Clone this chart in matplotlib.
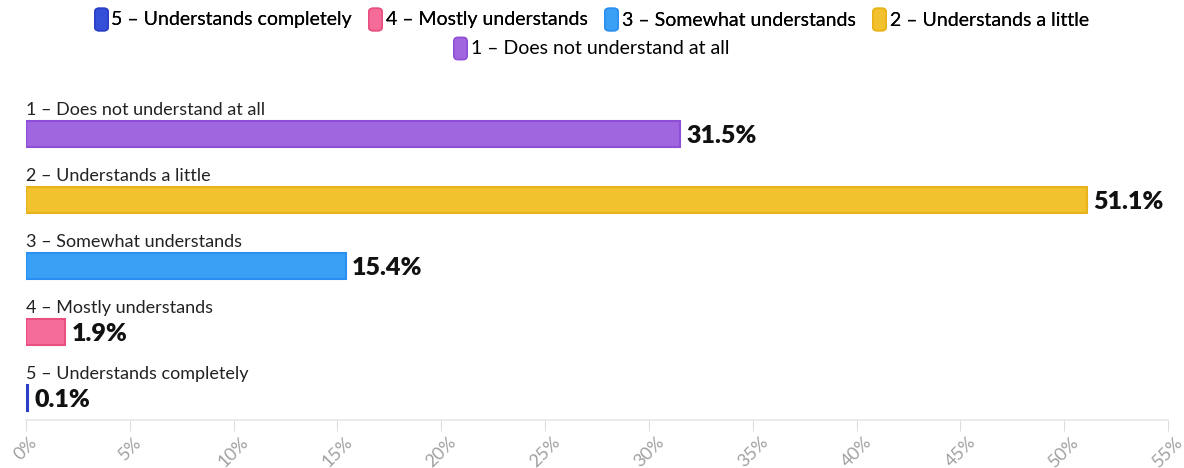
import matplotlib
matplotlib.use("Agg")
import matplotlib.pyplot as plt
from matplotlib.lines import Line2D
from matplotlib.patches import FancyBboxPatch

plt.rcParams['font.family'] = ['Lato', 'DejaVu Sans']

categories = ["1 – Does not understand at all", "2 – Understands a little",
              "3 – Somewhat understands", "4 – Mostly understands",
              "5 – Understands completely"]
values = [31.5, 51.1, 15.4, 1.9, 0.1]
face_colors = ["#a066e0", "#f2c12e", "#3aa0f6", "#f56c9b", "#3550d8"]
edge_colors = ["#8e4fd6", "#e8b31a", "#2a8ff0", "#e8507f", "#2a3fc8"]
xticks = list(range(0, 56, 5))
tick_labels = [f"{t}%" for t in xticks]

fig = plt.figure(figsize=(11.84, 4.68), dpi=100)
ax = fig.add_axes([26/1184, 48/468, (1168-26)/1184, 330/468])

ypos = list(range(len(categories)))
ax.barh(ypos, values, height=0.39, color=face_colors, edgecolor=edge_colors, linewidth=1.5)

for y, cat, v in zip(ypos, categories, values):
    ax.text(0, y - 0.25, cat, ha='left', va='bottom', fontsize=13, color='#222222')
    ax.text(v + 0.3, y + 0.03, f"{v}%", ha='left', va='center', fontsize=18,
            fontweight='heavy', color='#111111')

ax.set_xlim(0, 55)
ax.set_ylim(4.333, -0.667)
ax.set_yticks([])
ax.set_xticks(xticks)
ax.set_xticklabels(tick_labels, rotation=45, fontsize=13, color='#a0a0a0')
ax.tick_params(axis='x', length=8, color='#dddddd', pad=2)
for s in ['top', 'right', 'left']:
    ax.spines[s].set_visible(False)
ax.spines['bottom'].set_color('#e6e6e6')
ax.spines['bottom'].set_linewidth(1.2)

rr = FancyBboxPatch((-0.3, -0.5), 0.6, 1.0,
                    boxstyle="round,pad=0,rounding_size=0.18").get_path()

def handle(i):
    return Line2D([], [], linestyle='none', marker=rr, markersize=16,
                  markerfacecolor=face_colors[i], markeredgecolor=edge_colors[i],
                  markeredgewidth=1.2)

order1 = [4, 3, 2, 1]
leg1 = fig.legend([handle(i) for i in order1], [categories[i] for i in order1],
                  loc='center', bbox_to_anchor=(0.5, 1 - 20/468), ncol=4, frameon=False,
                  fontsize=14, handlelength=0.6, handletextpad=0.25, columnspacing=0.9,
                  borderpad=0)
leg2 = fig.legend([handle(0)], [categories[0]],
                  loc='center', bbox_to_anchor=(0.5, 1 - 49/468), ncol=1, frameon=False,
                  fontsize=14, handlelength=0.6, handletextpad=0.25, borderpad=0)
fig.add_artist(leg1)

fig.savefig("out.png", dpi=100)
